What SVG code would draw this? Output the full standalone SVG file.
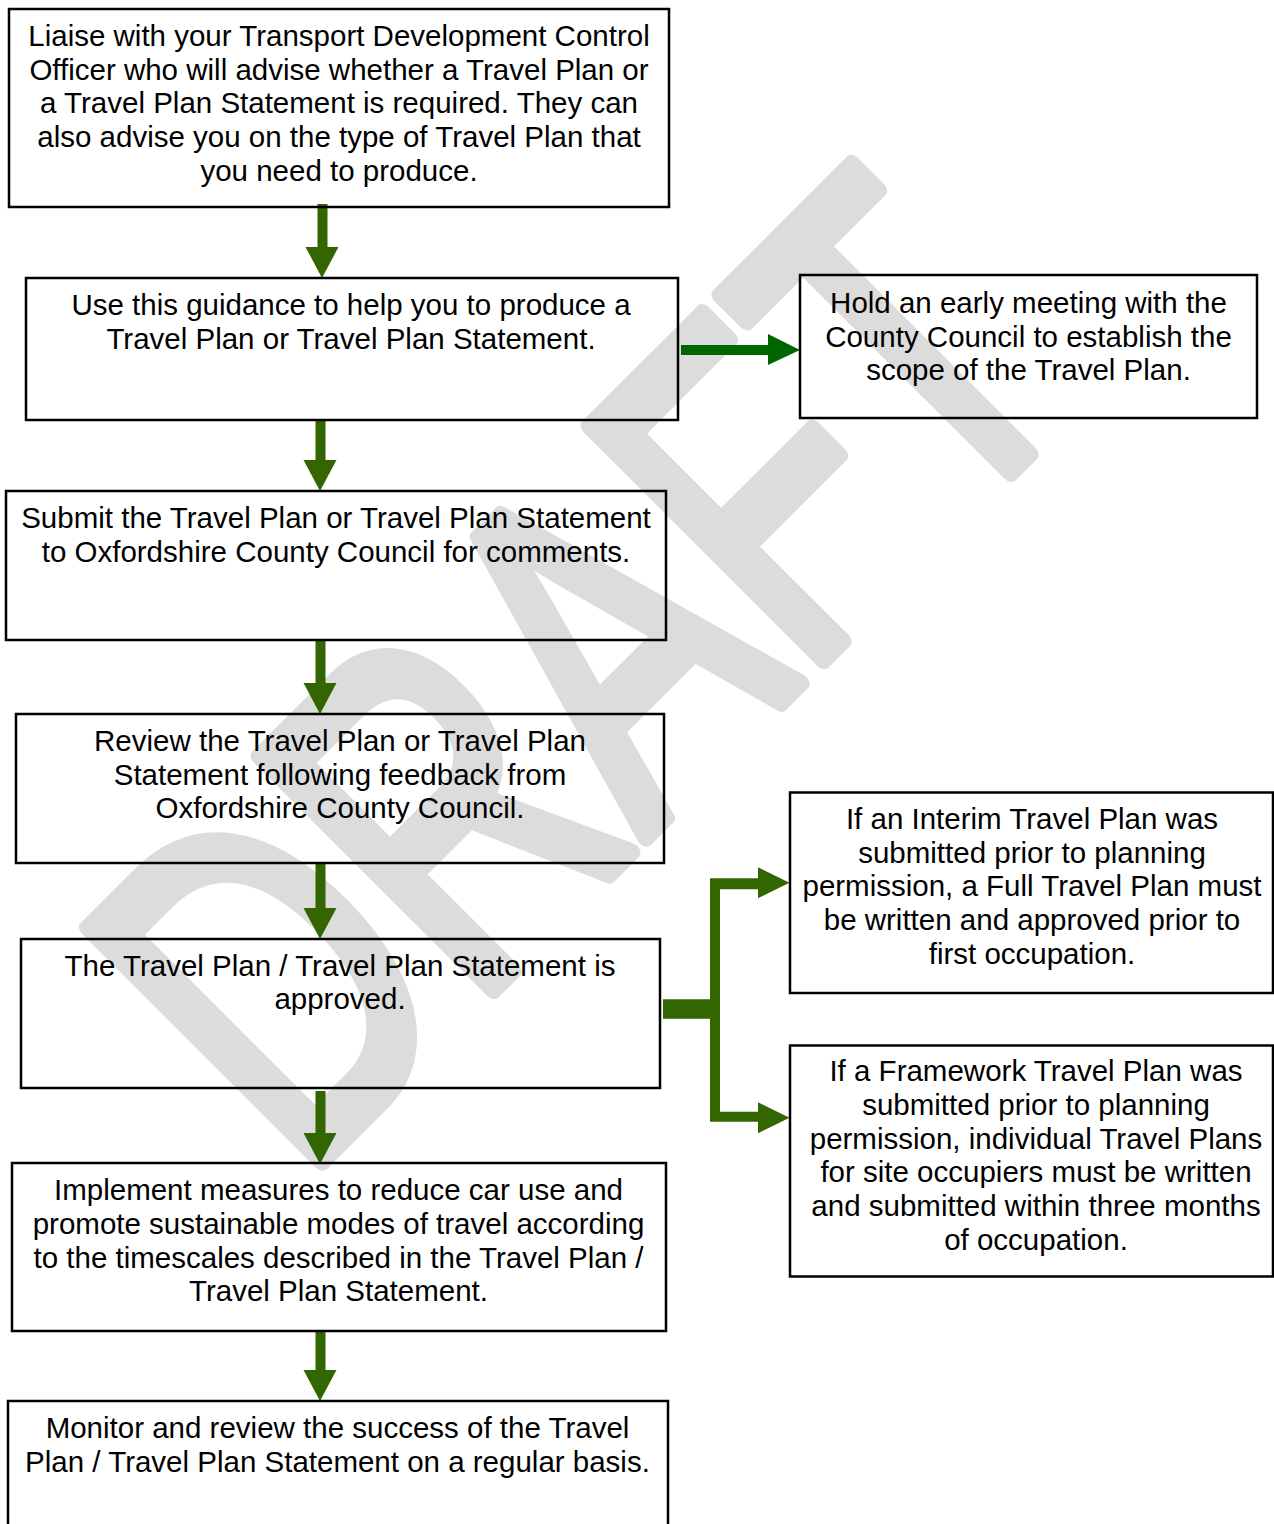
<svg xmlns="http://www.w3.org/2000/svg" width="1274" height="1524" viewBox="0 0 1274 1524">
<defs>
<style>
.box{fill:none;stroke:#000;stroke-width:2.5}
.t{font-family:"Liberation Sans",Arial,sans-serif;font-size:29.5px;fill:#000;text-anchor:middle}
.g{fill:#336600}
.g2{fill:#006600}
.wm{font-family:"Liberation Sans",Arial,sans-serif;font-size:480px;fill:#dcdcdc;stroke:#dcdcdc;stroke-width:18;stroke-linejoin:round;text-anchor:middle}
</style>
</defs>
<rect width="1274" height="1524" fill="#fff"/>
<g id="watermark">
<text class="wm" transform="translate(575,665) rotate(-45) scale(0.7,1)" x="0" y="172">DRAFT</text>
</g>
<g id="connectors">
<path class="g" d="M317.5,204 h10 v43 h11 l-16.5,31 l-16.5,-31 h12 z"/>
<path class="g" d="M315.5,420 h10 v40 h11 l-16.5,31 l-16.5,-31 h12 z"/>
<path class="g" d="M315.5,640 h10 v43 h11 l-16.5,31 l-16.5,-31 h12 z"/>
<path class="g" d="M315.5,863 h10 v45 h11 l-16.5,31 l-16.5,-31 h12 z"/>
<path class="g" d="M315.5,1091 h10 v42 h11 l-16.5,31 l-16.5,-31 h12 z"/>
<path class="g" d="M315.5,1331 h10 v39 h11 l-16.5,31 l-16.5,-31 h12 z"/>
<path class="g2" d="M681,345 h87 v-11 l32,16 l-32,15 v-10 h-87 z"/>
<path class="g" d="M663,999.3 h47 v-121 h48 v-11 l31.5,15.5 l-31.5,15.5 v-9 h-38 v222.5 h38 v-9.5 l31.5,15.5 l-31.5,15.5 v-11.5 h-48 v-103 h-47 z"/>
</g>
<g id="n1"><rect class="box" x="9" y="9" width="660" height="198"/>
<text class="t" x="339" y="46">Liaise with your Transport Development Control</text>
<text class="t" x="339" y="80">Officer who will advise whether a Travel Plan or</text>
<text class="t" x="339" y="113">a Travel Plan Statement is required. They can</text>
<text class="t" x="339" y="147">also advise you on the type of Travel Plan that</text>
<text class="t" x="339" y="181">you need to produce.</text></g>
<g id="n2"><rect class="box" x="26" y="278" width="652" height="142"/>
<text class="t" x="351" y="315">Use this guidance to help you to produce a</text>
<text class="t" x="351" y="349">Travel Plan or Travel Plan Statement.</text></g>
<g id="n3"><rect class="box" x="800" y="275" width="457" height="143"/>
<text class="t" x="1028.5" y="313">Hold an early meeting with the</text>
<text class="t" x="1028.5" y="347">County Council to establish the</text>
<text class="t" x="1028.5" y="380">scope of the Travel Plan.</text></g>
<g id="n4"><rect class="box" x="6" y="491" width="660" height="149"/>
<text class="t" x="336" y="528">Submit the Travel Plan or Travel Plan Statement</text>
<text class="t" x="336" y="562">to Oxfordshire County Council for comments.</text></g>
<g id="n5"><rect class="box" x="16" y="714" width="648" height="149"/>
<text class="t" x="340" y="751">Review the Travel Plan or Travel Plan</text>
<text class="t" x="340" y="785">Statement following feedback from</text>
<text class="t" x="340" y="818">Oxfordshire County Council.</text></g>
<g id="n6"><rect class="box" x="21" y="939" width="639" height="149"/>
<text class="t" x="340" y="976">The Travel Plan / Travel Plan Statement is</text>
<text class="t" x="340" y="1009">approved.</text></g>
<g id="n7"><rect class="box" x="12" y="1163" width="654" height="168"/>
<text class="t" x="338.5" y="1200">Implement measures to reduce car use and</text>
<text class="t" x="338.5" y="1234">promote sustainable modes of travel according</text>
<text class="t" x="338.5" y="1268">to the timescales described in the Travel Plan /</text>
<text class="t" x="338.5" y="1301">Travel Plan Statement.</text></g>
<g id="n8"><rect class="box" x="8" y="1401" width="660" height="140"/>
<text class="t" x="337.5" y="1438">Monitor and review the success of the Travel</text>
<text class="t" x="337.5" y="1472">Plan / Travel Plan Statement on a regular basis.</text></g>
<g id="n9"><rect class="box" x="790" y="792.5" width="483" height="200.5"/>
<text class="t" x="1032" y="829">If an Interim Travel Plan was</text>
<text class="t" x="1032" y="863">submitted prior to planning</text>
<text class="t" x="1032" y="896">permission, a Full Travel Plan must</text>
<text class="t" x="1032" y="930">be written and approved prior to</text>
<text class="t" x="1032" y="964">first occupation.</text></g>
<g id="n10"><rect class="box" x="790" y="1045.5" width="483" height="231"/>
<text class="t" x="1036" y="1081">If a Framework Travel Plan was</text>
<text class="t" x="1036" y="1115">submitted prior to planning</text>
<text class="t" x="1036" y="1149">permission, individual Travel Plans</text>
<text class="t" x="1036" y="1182">for site occupiers must be written</text>
<text class="t" x="1036" y="1216">and submitted within three months</text>
<text class="t" x="1036" y="1250">of occupation.</text></g>
</svg>
